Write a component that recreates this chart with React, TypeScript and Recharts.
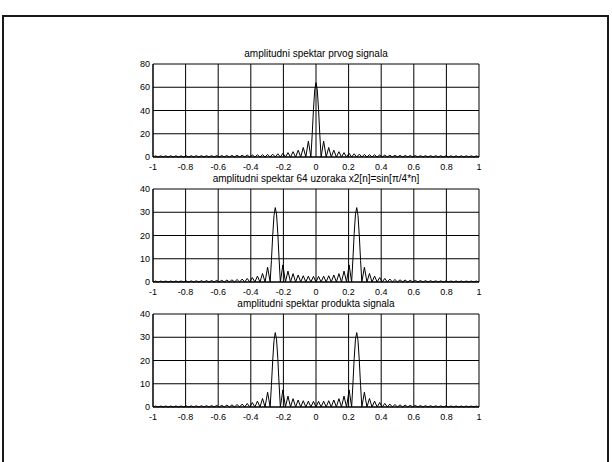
import { CartesianGrid, Line, LineChart, XAxis, YAxis } from "recharts";

// frequency bins in units of 1/64 (x axis is w/pi, -1..1)
const bins1 = [
  -64, -63, -62, -61, -60, -59, -58, -57, -56, -55, -54, -53, -52, -51, -50, -49,
  -48, -47, -46, -45, -44, -43, -42, -41, -40, -39, -38, -37, -36, -35, -34, -33,
  -32, -31, -30, -29, -28, -27, -26, -25, -24, -23, -22, -21, -20, -19, -18, -17,
  -16, -15, -14, -13, -12, -11, -10, -9, -8, -7, -6, -5, -4, -3, -2, -1.5,
  -1, -0.5, 0, 0.5, 1, 1.5, 2,
  3, 4, 5, 6, 7, 8, 9, 10, 11, 12, 13, 14, 15, 16,
  17, 18, 19, 20, 21, 22, 23, 24, 25, 26, 27, 28, 29, 30, 31, 32,
  33, 34, 35, 36, 37, 38, 39, 40, 41, 42, 43, 44, 45, 46, 47, 48,
  49, 50, 51, 52, 53, 54, 55, 56, 57, 58, 59, 60, 61, 62, 63, 64,
];

// amplitudni spektar prvog signala
const mag1 = [
  0, 1.0, 0, 1.0, 0, 1.01, 0, 1.01, 0, 1.02, 0, 1.04, 0, 1.05, 0, 1.07,
  0, 1.09, 0, 1.12, 0, 1.15, 0, 1.18, 0, 1.22, 0, 1.27, 0, 1.32, 0, 1.38,
  0, 1.45, 0, 1.53, 0, 1.63, 0, 1.74, 0, 1.87, 0, 2.03, 0, 2.22, 0, 2.47,
  0, 2.78, 0, 3.19, 0, 3.75, 0, 4.56, 0, 5.85, 0, 8.17, 0, 13.6, 0, 19.2,
  40.7, 57.6, 64, 57.6, 40.7, 19.2, 0,
  13.6, 0, 8.17, 0, 5.85, 0, 4.56, 0, 3.75, 0, 3.19, 0, 2.78, 0,
  2.47, 0, 2.22, 0, 2.03, 0, 1.87, 0, 1.74, 0, 1.63, 0, 1.53, 0, 1.45, 0,
  1.38, 0, 1.32, 0, 1.27, 0, 1.22, 0, 1.18, 0, 1.15, 0, 1.12, 0, 1.09, 0,
  1.07, 0, 1.05, 0, 1.04, 0, 1.02, 0, 1.01, 0, 1.01, 0, 1.0, 0, 1.0, 0,
];

const bins2 = [
  -64, -63, -62, -61, -60, -59, -58, -57, -56, -55, -54, -53, -52, -51, -50, -49,
  -48, -47, -46, -45, -44, -43, -42, -41, -40, -39, -38, -37, -36, -35, -34, -33,
  -32, -31, -30, -29, -28, -27, -26, -25, -24, -23, -22, -21, -20, -19, -18,
  -17.5, -17, -16.5, -16, -15.5, -15, -14.5,
  -14, -13, -12, -11, -10, -9, -8, -7, -6, -5, -4, -3, -2, -1, 0,
  1, 2, 3, 4, 5, 6, 7, 8, 9, 10, 11, 12, 13, 14,
  14.5, 15, 15.5, 16, 16.5, 17, 17.5,
  18, 19, 20, 21, 22, 23, 24, 25, 26, 27, 28, 29, 30, 31, 32,
  33, 34, 35, 36, 37, 38, 39, 40, 41, 42, 43, 44, 45, 46, 47, 48,
  49, 50, 51, 52, 53, 54, 55, 56, 57, 58, 59, 60, 61, 62, 63, 64,
];

// amplitudni spektar 64 uzoraka x2[n]=sin[pi/4*n]
const mag2 = [
  0, 0.41, 0, 0.42, 0, 0.42, 0, 0.43, 0, 0.44, 0, 0.45, 0, 0.47, 0, 0.49,
  0, 0.51, 0, 0.54, 0, 0.58, 0, 0.62, 0, 0.68, 0, 0.74, 0, 0.83, 0, 0.94,
  0, 1.07, 0, 1.26, 0, 1.52, 0, 1.91, 0, 2.53, 0, 3.66, 0, 6.35, 0,
  9.3, 19.9, 28.5, 32, 29.2, 20.9, 10.0,
  0, 7.36, 0, 4.69, 0, 3.59, 0, 3.02, 0, 2.69, 0, 2.51, 0, 2.42, 0,
  2.42, 0, 2.51, 0, 2.69, 0, 3.02, 0, 3.59, 0, 4.69, 0, 7.36, 0,
  10.0, 20.9, 29.2, 32, 28.5, 19.9, 9.3,
  0, 6.35, 0, 3.66, 0, 2.53, 0, 1.91, 0, 1.52, 0, 1.26, 0, 1.07, 0,
  0.94, 0, 0.83, 0, 0.74, 0, 0.68, 0, 0.62, 0, 0.58, 0, 0.54, 0, 0.51, 0,
  0.49, 0, 0.47, 0, 0.45, 0, 0.44, 0, 0.43, 0, 0.42, 0, 0.42, 0, 0.41, 0,
];

// product of the ones signal and x2 -> same spectrum as the second plot
const mag3 = mag2;

const xTicks = [-1, -0.8, -0.6, -0.4, -0.2, 0, 0.2, 0.4, 0.6, 0.8, 1];
const yTicks80 = [0, 20, 40, 60, 80];
const yTicks40 = [0, 10, 20, 30, 40];

const titles = [
  "amplitudni spektar prvog signala",
  "amplitudni spektar 64 uzoraka x2[n]=sin[\u03c0/4*n]",
  "amplitudni spektar produkta signala",
];

const FONT = "'Liberation Sans', Arial, Helvetica, sans-serif";

function toRows(bins: number[], mag: number[]) {
  return bins.map((b, i) => ({ f: b / 64, mag: mag[i] }));
}

type PanelProps = {
  top: number;
  title: string;
  rows: { f: number; mag: number }[];
  yMax: number;
  yTicks: number[];
};

function Panel({ top, title, rows, yMax, yTicks }: PanelProps) {
  const tick = { fontSize: 9, fill: "#000", fontFamily: FONT };
  return (
    <>
      <div
        style={{
          position: "absolute",
          left: 153,
          width: 326,
          top: top - 16,
          height: 12,
          lineHeight: "12px",
          textAlign: "center",
          fontSize: 10,
          fontFamily: FONT,
          color: "#000",
          whiteSpace: "nowrap",
        }}
      >
        {title}
      </div>
      <div style={{ position: "absolute", left: 123, top: top - 6 }}>
        <LineChart
          width={366}
          height={119}
          data={rows}
          margin={{ top: 6, right: 10, bottom: 0, left: 0 }}
        >
          <CartesianGrid stroke="#000" strokeWidth={1} />
          <XAxis
            dataKey="f"
            type="number"
            domain={[-1, 1]}
            ticks={xTicks}
            interval={0}
            height={20}
            tickLine={false}
            tickSize={5}
            tickMargin={2}
            axisLine={{ stroke: "#000" }}
            tick={tick}
          />
          <YAxis
            type="number"
            domain={[0, yMax]}
            ticks={yTicks}
            interval={0}
            width={30}
            tickLine={false}
            tickSize={1}
            tickMargin={2}
            axisLine={{ stroke: "#000" }}
            tick={tick}
          />
          <Line
            type="linear"
            dataKey="mag"
            stroke="#000"
            strokeWidth={1}
            dot={false}
            activeDot={false}
            isAnimationActive={false}
          />
        </LineChart>
      </div>
    </>
  );
}

export default function App() {
  return (
    <div
      style={{
        position: "absolute",
        left: 0,
        top: 0,
        width: 612,
        height: 462,
        background: "#fff",
        overflow: "hidden",
      }}
    >
      <div
        style={{
          position: "absolute",
          left: 2,
          top: 15,
          width: 607,
          height: 480,
          border: "2px solid #1a1a1a",
          boxSizing: "border-box",
        }}
      />
      <Panel top={64} title={titles[0]} rows={toRows(bins1, mag1)} yMax={80} yTicks={yTicks80} />
      <Panel top={189} title={titles[1]} rows={toRows(bins2, mag2)} yMax={40} yTicks={yTicks40} />
      <Panel top={314} title={titles[2]} rows={toRows(bins2, mag3)} yMax={40} yTicks={yTicks40} />
    </div>
  );
}
